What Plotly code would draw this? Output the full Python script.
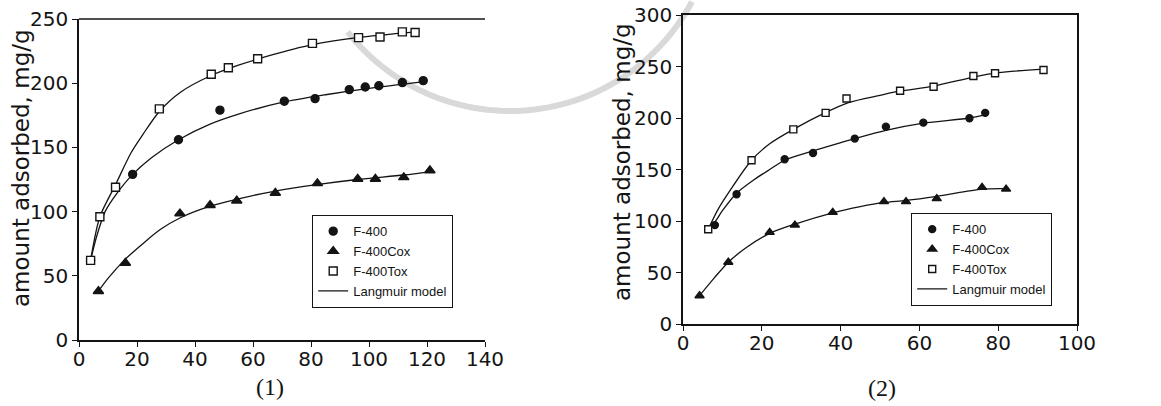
import math
import plotly.graph_objects as go

W, H = 1161, 406

# ---------------- Panel (1) ----------------
p1_f400_x = [4, 18.5, 34.3, 48.6, 70.8, 81.4, 93.2, 98.7, 103.4, 111.5, 118.7]
p1_f400_y = [62, 129, 156, 179, 186, 188, 195, 197, 198, 200.5, 202]
p1_cox_x = [6.7, 16, 34.8, 45.2, 54.4, 67.7, 82.2, 96.1, 102.2, 112, 121]
p1_cox_y = [38, 60, 98.5, 105, 108.5, 114.5, 122, 125.4, 125.4, 126.7, 132]
p1_tox_x = [4, 7.2, 12.6, 27.7, 45.6, 51.5, 61.6, 80.5, 96.4, 103.8, 111.5, 115.9]
p1_tox_y = [62, 96, 119, 180, 207, 212, 219, 231, 235.5, 236, 240, 239.5]

# Langmuir model lines, panel (1)
p1_fit_f400_x = [4, 6, 9, 13, 18.5, 25, 34.3, 45, 55, 70, 85, 100, 118.7]
p1_fit_f400_y = [62, 80, 100, 114, 129, 142, 156, 168, 176, 185, 191, 196, 201]
p1_fit_cox_x = [6.7, 10, 16, 22, 28, 34.8, 45, 55, 67.7, 82, 96, 112, 121]
p1_fit_cox_y = [38, 48, 63, 75, 86, 95, 104, 110, 116, 121, 125, 128.5, 131]
p1_fit_tox_x = [4, 7.2, 12.6, 18, 22, 27.7, 35, 45.6, 55, 65, 80.5, 96, 116]
p1_fit_tox_y = [62, 96, 121, 146, 160, 178, 193, 206, 214, 221, 230, 235.5, 240]

# ---------------- Panel (2) ----------------
p2_f400_x = [8.1, 13.6, 25.8, 33, 43.6, 51.5, 61, 72.7, 76.7]
p2_f400_y = [96, 126, 160, 166, 180, 191.6, 195.5, 199.7, 205]
p2_cox_x = [4.2, 11.5, 22, 28.4, 38, 51, 56.6, 64.4, 75.9, 82]
p2_cox_y = [27.5, 60, 89, 96, 108.4, 118.8, 118.8, 121.7, 132.7, 131]
p2_tox_x = [6.4, 17.4, 28, 36.2, 41.5, 55.1, 63.6, 73.7, 79.2, 91.5]
p2_tox_y = [92, 159, 189, 205, 219, 226.5, 230.4, 240.8, 243.4, 246.6]

# Langmuir model lines, panel (2)
p2_fit_f400_x = [6.4, 8.1, 10, 13.6, 18, 22, 25.8, 33, 40, 43.6, 51.5, 61, 72.7, 76.7]
p2_fit_f400_y = [92, 99, 110, 127, 140, 150, 159, 168, 176, 180, 188, 195, 200, 203]
p2_fit_cox_x = [4.2, 8, 11.5, 16, 22, 28.4, 38, 45, 51, 56.6, 64.4, 75.9, 82]
p2_fit_cox_y = [27.5, 45, 60, 74, 88, 97, 108, 114, 118, 120, 124, 131, 131.5]
p2_fit_tox_x = [6.4, 9, 12, 17.4, 22, 28, 36, 42, 50, 55, 63.6, 74, 80, 91.5]
p2_fit_tox_y = [92, 112, 130, 159, 175, 189, 205, 215, 222, 226, 231, 240, 244, 247.5]

series_names = ["F-400", "F-400Cox", "F-400Tox"]
model_name = "Langmuir model"
x1_ticks = [0, 20, 40, 60, 80, 100, 120, 140]
y1_ticks = [0, 50, 100, 150, 200, 250]
x2_ticks = [0, 20, 40, 60, 80, 100]
y2_ticks = [0, 50, 100, 150, 200, 250, 300]

INK = "#141414"
tick_font = dict(family="DejaVu Sans, Arial, sans-serif", size=20, color=INK)
title_font = dict(family="DejaVu Sans, Arial, sans-serif", size=23, color=INK)
legend_font = dict(family="Liberation Sans, Arial, sans-serif", size=13, color=INK)

fig = go.Figure()


def add_panel(xa, ya, legend, markers, fits, msize):
    symbols = ["circle", "triangle-up", "square"]
    fills = [INK, INK, "white"]
    # model curves first so markers sit on top
    for i, (fx, fy) in enumerate(fits):
        fig.add_trace(go.Scatter(
            x=fx, y=fy, mode="lines", name=model_name,
            line=dict(color=INK, width=1.3, shape="spline", smoothing=0.8),
            xaxis=xa, yaxis=ya, legend=legend, legendrank=10,
            showlegend=(i == 0),
        ))
    for i, (mx, my) in enumerate(markers):
        fig.add_trace(go.Scatter(
            x=mx, y=my, mode="markers", name=series_names[i],
            marker=dict(symbol=symbols[i], size=msize[i], color=fills[i],
                        line=dict(color=INK, width=1.4)),
            xaxis=xa, yaxis=ya, legend=legend, legendrank=i + 1,
        ))


add_panel("x", "y", "legend",
          [(p1_f400_x, p1_f400_y), (p1_cox_x, p1_cox_y), (p1_tox_x, p1_tox_y)],
          [(p1_fit_f400_x, p1_fit_f400_y), (p1_fit_cox_x, p1_fit_cox_y),
           (p1_fit_tox_x, p1_fit_tox_y)],
          [8, 9, 8])
add_panel("x2", "y2", "legend2",
          [(p2_f400_x, p2_f400_y), (p2_cox_x, p2_cox_y), (p2_tox_x, p2_tox_y)],
          [(p2_fit_f400_x, p2_fit_f400_y), (p2_fit_cox_x, p2_fit_cox_y),
           (p2_fit_tox_x, p2_fit_tox_y)],
          [7, 8, 7])


def dom_x(a, b):
    return [a / W, b / W]


def dom_y(top, bottom):
    return [1 - bottom / H, 1 - top / H]


axis_common = dict(
    showgrid=False, zeroline=False, showline=True, linecolor=INK, linewidth=1.5,
    ticks="outside", ticklen=5, tickwidth=1.2, tickcolor=INK, tickfont=tick_font,
    automargin=False,
)
legend_common = dict(xanchor="left", yanchor="top", bordercolor=INK,
                     borderwidth=1.2, bgcolor="white", tracegroupgap=0,
                     traceorder="normal", font=legend_font)

fig.update_layout(
    width=W, height=H,
    margin=dict(l=0, r=0, t=0, b=0, autoexpand=False),
    paper_bgcolor="white", plot_bgcolor="rgba(0,0,0,0)",
    xaxis=dict(domain=dom_x(79, 485), range=[0, 140], tickvals=x1_ticks,
               anchor="y", ticklabelstandoff=-5, **axis_common),
    yaxis=dict(domain=dom_y(19, 340), range=[0, 250], tickvals=y1_ticks,
               anchor="x", **axis_common),
    xaxis2=dict(domain=dom_x(683, 1077), range=[0, 100], tickvals=x2_ticks,
                anchor="y2", mirror=True, ticklabelstandoff=-5, **axis_common),
    yaxis2=dict(domain=dom_y(15, 324), range=[0, 300], tickvals=y2_ticks,
                anchor="x2", mirror=True, **axis_common),
    legend=dict(x=312 / W, y=1 - 215 / H, **legend_common),
    legend2=dict(x=911 / W, y=1 - 213 / H, **legend_common),
    showlegend=True,
)

# top frame line of panel (1)
fig.add_shape(type="line", xref="x domain", yref="y domain",
              x0=0, x1=1, y0=1, y1=1, line=dict(color=INK, width=1.5))

# faint grey seal ring printed behind both panels
ring_cx, ring_cy, ring_r = 510, -95, 206
ring_pts = []
for k in range(61):
    t = math.radians(28 + k * (142 - 28) / 60)
    px = ring_cx + ring_r * math.cos(t)
    py = ring_cy + ring_r * math.sin(t)
    ring_pts.append(f"{px / W:.5f},{1 - py / H:.5f}")
fig.add_shape(type="path", xref="paper", yref="paper", layer="below",
              path="M " + " L ".join(ring_pts),
              line=dict(color="#d9d9d9", width=6))

# axis titles and panel captions
for xc, yc in [(21, 168), (622, 162)]:
    fig.add_annotation(text="amount adsorbed, mg/g", textangle=-90,
                       x=xc / W, y=1 - yc / H, xref="paper", yref="paper",
                       xanchor="center", yanchor="middle",
                       showarrow=False, font=title_font)
for txt, xc, yc in [("(1)", 270, 387), ("(2)", 882, 388)]:
    fig.add_annotation(text=txt, x=xc / W, y=1 - yc / H, xref="paper", yref="paper",
                       xanchor="center", yanchor="middle", showarrow=False,
                       font=dict(family="Liberation Serif, Times New Roman, serif",
                                 size=24, color=INK))

fig.write_html("out.html")
